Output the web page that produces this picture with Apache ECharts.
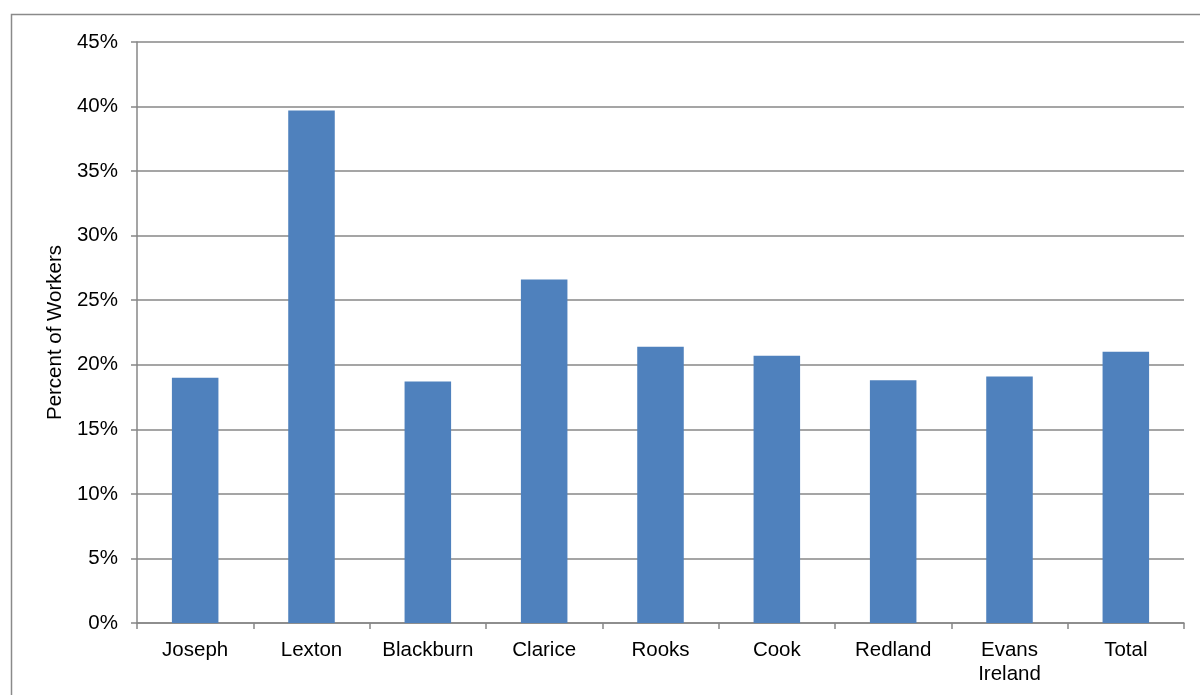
<!DOCTYPE html>
<html>
<head>
<meta charset="utf-8">
<script src="https://cdn.jsdelivr.net/npm/echarts@6/dist/echarts.min.js"></script>
<style>
  html, body { margin: 0; padding: 0; background: #fff; }
  #main { width: 1200px; height: 695px; }
</style>
</head>
<body>
<div id="main"></div>
<script>
// towns and share of workers (%)
var categories = ["Joseph", "Lexton", "Blackburn", "Clarice", "Rooks", "Cook", "Redland", "Evans\nIreland", "Total"];
var percentWorkers = [19.0, 39.7, 18.7, 26.6, 21.4, 20.7, 18.8, 19.1, 21.0];
var yTicks = { min: 0, max: 45, interval: 5 };

var chartDom = document.getElementById("main");
var myChart = echarts.init(chartDom);

var axisGray = "#878787";

var option = {
  animation: false,
  textStyle: { fontFamily: "Liberation Sans, Arial, sans-serif" },
  // outer chart frame (runs off the right and bottom edge)
  graphic: [
    {
      type: "rect",
      left: 9,
      top: 12,
      shape: { width: 1210, height: 700 },
      style: { fill: null, stroke: "#8a8a8a", lineWidth: 1.5 },
      silent: true,
    },
  ],
  grid: {
    left: 137,
    right: 16,
    top: 42,
    bottom: 72,
  },
  xAxis: {
    type: "category",
    data: categories,
    axisLine: { lineStyle: { color: axisGray, width: 1.5 } },
    axisTick: { show: true, interval: 0, length: 6, lineStyle: { color: axisGray, width: 1.5 } },
    axisLabel: {
      interval: 0,
      hideOverlap: false,
      color: "#000",
      fontSize: 20.5,
      margin: 15,
      lineHeight: 24,
    },
  },
  yAxis: {
    type: "value",
    min: yTicks.min,
    max: yTicks.max,
    interval: yTicks.interval,
    name: "Percent of Workers",
    nameLocation: "middle",
    nameGap: 65,
    nameTextStyle: { color: "#000", fontSize: 20.5 },
    axisLine: { show: true, lineStyle: { color: axisGray, width: 1.5 } },
    axisTick: { show: true, length: 6, lineStyle: { color: axisGray, width: 1.5 } },
    axisLabel: {
      color: "#000",
      fontSize: 20.5,
      margin: 19,
      formatter: "{value}%",
    },
    splitLine: { show: true, lineStyle: { color: axisGray, width: 1.5 } },
  },
  series: [
    {
      type: "bar",
      data: percentWorkers,
      barCategoryGap: "60%",
      itemStyle: { color: "#4F81BD" },
    },
  ],
};

myChart.setOption(option);
window.addEventListener("resize", function () {
  myChart.resize();
});
</script>
</body>
</html>
